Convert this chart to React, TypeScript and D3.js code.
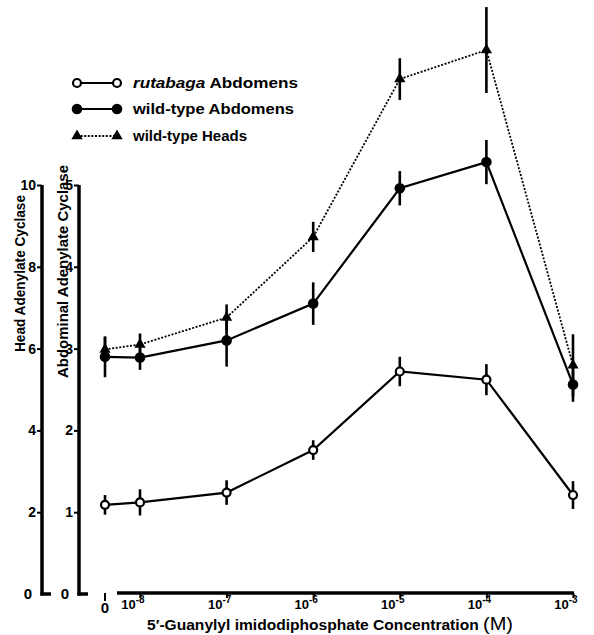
import React, { useEffect, useRef } from 'react';
import * as d3 from 'd3';

// concentrations of Gpp(NH)p, 0 is drawn left of the log axis
const concentrations = [0, 1e-8, 1e-7, 1e-6, 1e-5, 1e-4, 1e-3];
const xTickSup = ['-8', '-7', '-6', '-5', '-4', '-3'];

// abdominal adenylate cyclase (right inner axis, 0-5)
const rutabagaAbd = [1.09, 1.12, 1.24, 1.76, 2.72, 2.62, 1.21];
const rutabagaAbdErr = [0.12, 0.16, 0.15, 0.12, 0.18, 0.19, 0.17];
const wildAbd = [2.9, 2.89, 3.1, 3.55, 4.96, 5.28, 2.56];
const wildAbdErr = [0.25, 0.15, 0.32, 0.26, 0.21, 0.27, 0.21];

// head adenylate cyclase (outer axis, 0-10)
const wildHead = [5.98, 6.1, 6.76, 8.73, 12.59, 13.3, 5.59];
const wildHeadErr = [0.3, 0.27, 0.32, 0.37, 0.51, 1.05, 0.76];

const headTicks = [0, 2, 4, 6, 8, 10];
const abdTicks = [0, 1, 2, 3, 4, 5];

const FONT = '"Liberation Sans", Arial, sans-serif';

const App = () => {
  const ref = useRef<SVGSVGElement>(null);

  useEffect(() => {
    const svg = d3.select(ref.current);
    svg.selectAll('*').remove();

    const yHead = d3.scaleLinear().domain([0, 10]).range([594, 185]);
    const yAbd = d3.scaleLinear().domain([0, 5]).range([594, 185]);
    const xLog = d3.scaleLog().domain([1e-8, 1e-3]).range([140, 573]);
    const zeroGap = 35;
    const x = (c: number) => (c === 0 ? xLog(1e-8) - zeroGap : xLog(c));

    const headX = 42;
    const abdX = 79;

    // y axes
    const drawYAxis = (scale: any, ticks: number[], ax: number) => {
      const g = svg.append('g').attr('transform', `translate(${ax},0)`);
      g.call(d3.axisLeft(scale).tickValues(ticks.filter(t => t !== 0)).tickSize(5).tickPadding(1).tickFormat(d3.format('d')));
      g.select('.domain').remove();
      g.selectAll('line').attr('stroke', '#000').attr('stroke-width', 2);
      g.selectAll('text').attr('font-family', FONT).attr('font-weight', 'bold').attr('font-size', 14).attr('fill', '#000');
      // zero label and foot
      g.append('text').attr('x', -10).attr('y', scale(0)).attr('dy', '0.35em').attr('text-anchor', 'end').attr('fill', '#000')
        .attr('font-family', FONT).attr('font-weight', 'bold').attr('font-size', 15).text('0');
      g.append('line').attr('x1', 0).attr('x2', 0).attr('y1', scale(0) + 1.5).attr('y2', scale(ticks[ticks.length - 1]))
        .attr('stroke', '#000').attr('stroke-width', 3.5);
      g.append('line').attr('x1', -1.5).attr('x2', 9).attr('y1', scale(0)).attr('y2', scale(0))
        .attr('stroke', '#000').attr('stroke-width', 3.5);
    };
    drawYAxis(yHead, headTicks, headX);
    drawYAxis(yAbd, abdTicks, abdX);

    // y axis titles
    svg.append('text').attr('transform', 'translate(25,352) rotate(-90)')
      .attr('font-family', FONT).attr('font-weight', 'bold').attr('font-size', 15)
      .attr('textLength', 157).attr('lengthAdjust', 'spacingAndGlyphs').text('Head Adenylate Cyclase');
    svg.append('text').attr('transform', 'translate(68,378) rotate(-90)')
      .attr('font-family', FONT).attr('font-weight', 'bold').attr('font-size', 15)
      .attr('textLength', 213).attr('lengthAdjust', 'spacingAndGlyphs').text('Abdominal Adenylate Cyclase');

    // x axis
    const xAxisY = 593;
    const xg = svg.append('g').attr('transform', `translate(0,${xAxisY})`);
    xg.call(d3.axisBottom(xLog).tickValues(concentrations.slice(1)).tickSize(5).tickFormat(() => ''));
    xg.select('.domain').remove();
    xg.selectAll('line').attr('stroke', '#000').attr('stroke-width', 2);
    xg.append('line').attr('x1', xLog(1e-8) - 23).attr('x2', xLog(1e-3) + 1).attr('y1', 0).attr('y2', 0)
      .attr('stroke', '#000').attr('stroke-width', 3.5);
    // zero tick stands alone
    xg.append('line').attr('x1', x(0)).attr('x2', x(0)).attr('y1', 0).attr('y2', 8).attr('stroke', '#000').attr('stroke-width', 2);
    xg.append('text').attr('x', x(0)).attr('y', 20).attr('text-anchor', 'middle').attr('fill', '#000')
      .attr('font-family', FONT).attr('font-weight', 'bold').attr('font-size', 15).text('0');
    concentrations.slice(1).forEach((c, i) => {
      const t = xg.append('text').attr('x', xLog(c) - 7).attr('y', 16).attr('fill', '#000')
        .attr('font-family', FONT).attr('font-weight', 'bold').attr('font-size', 13);
      t.append('tspan').text('10');
      t.append('tspan').attr('dy', -6).attr('font-size', 10).text(xTickSup[i]);
    });
    const xt = svg.append('text').attr('x', 147).attr('y', 630)
      .attr('font-family', FONT).attr('font-weight', 'bold').attr('font-size', 14)
      .attr('textLength', 366).attr('lengthAdjust', 'spacingAndGlyphs');
    xt.append('tspan').text('5\u2032-Guanylyl imidodiphosphate Concentration ');
    xt.append('tspan').attr('font-size', 18).attr('font-weight', 'normal').text('(M)');

    // series
    const series = [
      { vals: wildHead, err: wildHeadErr, y: yHead, kind: 'tri', dash: '2,1.6', lw: 1.8 },
      { vals: wildAbd, err: wildAbdErr, y: yAbd, kind: 'fill', dash: null, lw: 2.2 },
      { vals: rutabagaAbd, err: rutabagaAbdErr, y: yAbd, kind: 'open', dash: null, lw: 2.2 },
    ];

    series.forEach(s => {
      const line = d3.line<number>().x((_, i) => x(concentrations[i])).y(v => s.y(v));
      svg.append('path').attr('d', line(s.vals)).attr('fill', 'none').attr('stroke', '#000')
        .attr('stroke-width', s.lw).attr('stroke-dasharray', s.dash);
    });

    series.forEach(s => {
      svg.append('g').selectAll('line').data(s.vals).enter().append('line')
        .attr('x1', (_, i) => x(concentrations[i])).attr('x2', (_, i) => x(concentrations[i]))
        .attr('y1', (v, i) => s.y(v - s.err[i])).attr('y2', (v, i) => s.y(v + s.err[i]))
        .attr('stroke', '#000').attr('stroke-width', 2.6);
    });

    const drawMarker = (g: any, kind: string, cx: number, cy: number) => {
      if (kind === 'tri') {
        g.append('path').attr('d', d3.symbol(d3.symbolTriangle, 55)()).attr('transform', `translate(${cx},${cy})`).attr('fill', '#000');
      } else if (kind === 'fill') {
        g.append('circle').attr('cx', cx).attr('cy', cy).attr('r', 5.3).attr('fill', '#000');
      } else {
        g.append('circle').attr('cx', cx).attr('cy', cy).attr('r', 4).attr('fill', '#fff').attr('stroke', '#000').attr('stroke-width', 2.2);
      }
    };

    series.forEach(s => {
      const g = svg.append('g');
      s.vals.forEach((v, i) => drawMarker(g, s.kind, x(concentrations[i]), s.y(v)));
    });

    // legend
    const legend = [
      { kind: 'open', dash: null, lw: 2.2, y: 83, italic: 'rutabaga', rest: ' Abdomens', len: 165 },
      { kind: 'fill', dash: null, lw: 2.2, y: 109, italic: '', rest: 'wild-type Abdomens', len: 161 },
      { kind: 'tri', dash: '2,1.6', lw: 1.8, y: 136, italic: '', rest: 'wild-type Heads', len: 114 },
    ];
    const lg = svg.append('g');
    legend.forEach(l => {
      lg.append('line').attr('x1', 77).attr('x2', 117).attr('y1', l.y).attr('y2', l.y)
        .attr('stroke', '#000').attr('stroke-width', l.lw).attr('stroke-dasharray', l.dash);
      drawMarker(lg, l.kind, 77, l.y);
      drawMarker(lg, l.kind, 117, l.y);
      const t = lg.append('text').attr('x', 133).attr('y', l.y + 5)
        .attr('font-family', FONT).attr('font-weight', 'bold').attr('font-size', 15)
        .attr('textLength', l.len).attr('lengthAdjust', 'spacingAndGlyphs');
      if (l.italic) t.append('tspan').attr('font-style', 'italic').text(l.italic);
      t.append('tspan').text(l.rest);
    });
  }, []);

  return (
    <div style={{ position: 'absolute', left: 0, top: 0 }}>
      <svg ref={ref} width={594} height={635} style={{ display: 'block', background: '#fff' }} />
    </div>
  );
};

export default App;
